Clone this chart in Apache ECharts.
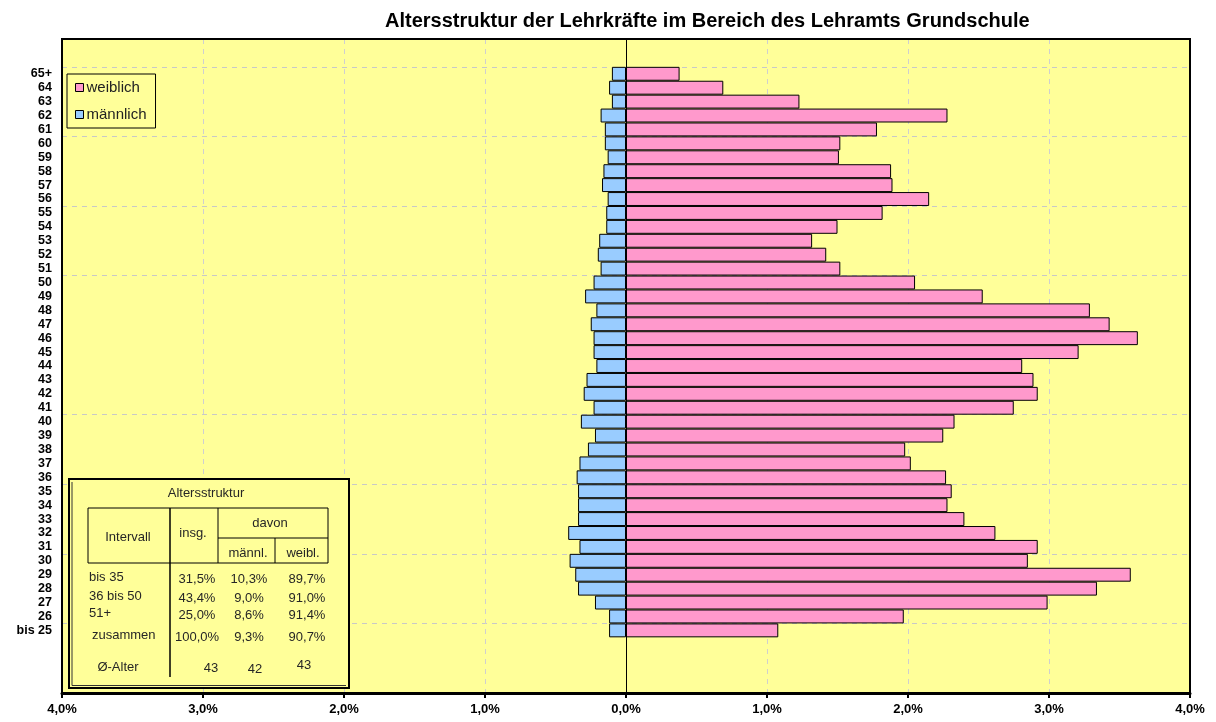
<!DOCTYPE html>
<html>
<head>
<meta charset="utf-8">
<script src="https://cdn.jsdelivr.net/npm/echarts@6/dist/echarts.min.js"></script>
<style>
  html, body { margin: 0; padding: 0; background: #fff; }
  #chart { width: 1216px; height: 722px; }
</style>
</head>
<body>
<div id="chart"></div>
<script>
// age groups from top to bottom
const ages = ['65+', '64', '63', '62', '61', '60', '59', '58', '57', '56',
    '55', '54', '53', '52', '51', '50', '49', '48', '47', '46',
    '45', '44', '43', '42', '41', '40', '39', '38', '37', '36',
    '35', '34', '33', '32', '31', '30', '29', '28', '27', '26', 'bis 25'];

// share of all teachers in %
const weiblich = [0.38, 0.69, 1.23, 2.28, 1.78, 1.52, 1.51, 1.88, 1.89, 2.15,
    1.82, 1.50, 1.32, 1.42, 1.52, 2.05, 2.53, 3.29, 3.43, 3.63,
    3.21, 2.81, 2.89, 2.92, 2.75, 2.33, 2.25, 1.98, 2.02, 2.27,
    2.31, 2.28, 2.40, 2.62, 2.92, 2.85, 3.58, 3.34, 2.99, 1.97, 1.08];
const maennlich = [0.10, 0.12, 0.10, 0.18, 0.15, 0.15, 0.13, 0.16, 0.17, 0.13,
    0.14, 0.14, 0.19, 0.20, 0.18, 0.23, 0.29, 0.21, 0.25, 0.23,
    0.23, 0.21, 0.28, 0.30, 0.23, 0.32, 0.22, 0.27, 0.33, 0.35,
    0.34, 0.34, 0.34, 0.41, 0.33, 0.40, 0.36, 0.34, 0.22, 0.12, 0.12];

const xTicks = [-4, -3, -2, -1, 0, 1, 2, 3, 4];

// summary table
const tabIntervalle = ['bis 35', '36 bis 50', '51+', 'zusammen'];
const tabInsg = ['31,5%', '43,4%', '25,0%', '100,0%'];
const tabMaennl = ['10,3%', '9,0%', '8,6%', '9,3%'];
const tabWeibl = ['89,7%', '91,0%', '91,4%', '90,7%'];
const tabAlter = ['43', '42', '43'];

// empty slots so the axis runs a bit above and below the age groups
const padTop = [' ', '  '];
const padBottom = ['   ', '    ', '     ', '      '];
const yCats = padTop.concat(ages, padBottom);
const off = padTop.length;

const fem = yCats.map((c, i) => (i >= off && i < off + ages.length) ? weiblich[i - off] : '-');
const mal = yCats.map((c, i) => (i >= off && i < off + ages.length) ? -maennlich[i - off] : '-');

// dashed lines at top of 65+, 60, 55, 50, 40, 35, 30, bis 25
const gridAt = ['65+', '60', '55', '50', '40', '35', '30', 'bis 25'].map(a => yCats.indexOf(a));

const FONT = 'Liberation Sans, Arial, sans-serif';
const TXT = { fontFamily: FONT, fontSize: 13, fill: '#262626' };

function t(text, x, y, align) {
    return { type: 'text', z: 101, style: Object.assign({ text: text, x: x, y: y, textAlign: align || 'center', textVerticalAlign: 'middle' }, TXT) };
}
function ln(x1, y1, x2, y2, w) {
    return { type: 'line', z: 101, shape: { x1: x1, y1: y1, x2: x2, y2: y2 }, style: { stroke: '#000', lineWidth: w || 1 } };
}

const rowY = [578, 597, 614, 636];
const gfx = [
    // plot frame on top of the dashed grid lines
    { type: 'rect', z: 50, shape: { x: 62, y: 39, width: 1128, height: 654 }, style: { fill: null, stroke: '#000', lineWidth: 2 } },
    { type: 'rect', z: 100, shape: { x: 69, y: 479, width: 280, height: 209 }, style: { fill: '#FFFF99', stroke: '#000', lineWidth: 2 } },
    { type: 'polyline', z: 101, shape: { points: [[72, 482], [72, 685.5], [346, 685.5]] }, style: { stroke: '#333', lineWidth: 1, fill: null } },
    t('Altersstruktur', 206, 493),
    { type: 'rect', z: 101, shape: { x: 88, y: 508, width: 240, height: 55 }, style: { fill: null, stroke: '#000', lineWidth: 1 } },
    ln(170, 508, 170, 677, 1.5),
    ln(218, 508, 218, 563),
    ln(218, 538, 328, 538),
    ln(275, 538, 275, 563),
    t('Intervall', 128, 537),
    t('insg.', 193, 533),
    t('davon', 270, 523),
    t('männl.', 248, 553),
    t('weibl.', 303, 553),
    t('Ø-Alter', 118, 667),
    t(tabAlter[0], 211, 668),
    t(tabAlter[1], 255, 669),
    t(tabAlter[2], 304, 665)
];
tabIntervalle.forEach((s, i) => {
    gfx.push(t(s, i === 3 ? 92 : 89, rowY[i] - 1, 'left'));
    gfx.push(t(tabInsg[i], 197, rowY[i] + 1));
    gfx.push(t(tabMaennl[i], 249, rowY[i] + 1));
    gfx.push(t(tabWeibl[i], 307, rowY[i] + 1));
});

const chart = echarts.init(document.getElementById('chart'));
chart.setOption({
    animation: false,
    title: {
        text: 'Altersstruktur der Lehrkräfte im Bereich des Lehramts Grundschule',
        left: 380,
        top: 6,
        textStyle: { fontFamily: FONT, fontSize: 20, fontWeight: 'bold', color: '#000' }
    },
    legend: {
        data: ['weiblich', 'männlich'],
        orient: 'vertical',
        left: 67,
        top: 74,
        backgroundColor: '#FFFF99',
        borderColor: '#000',
        borderWidth: 1,
        padding: [6, 9, 6, 8],
        itemGap: 12,
        itemWidth: 8,
        itemHeight: 8,
        itemStyle: { borderColor: '#000', borderWidth: 1 },
        icon: 'rect',
        textStyle: { fontFamily: FONT, fontSize: 15, color: '#222', padding: [0, 0, 0, -2] }
    },
    grid: {
        left: 62, right: 26, top: 39, bottom: 29,
        show: true,
        backgroundColor: '#FFFF99',
        borderColor: '#000',
        borderWidth: 2
    },
    xAxis: {
        type: 'value',
        min: xTicks[0],
        max: xTicks[xTicks.length - 1],
        interval: 1,
        axisLine: { show: true, lineStyle: { color: '#000', width: 3 } },
        axisTick: { show: true, length: 5, lineStyle: { color: '#000', width: 2 } },
        splitLine: { show: true, lineStyle: { type: [5, 5], color: '#cfcfcf' } },
        axisLabel: {
            fontFamily: FONT, fontSize: 13, fontWeight: 'bold', color: '#000', margin: 10,
            formatter: v => Math.abs(v).toFixed(1).replace('.', ',') + '%'
        }
    },
    yAxis: {
        type: 'category',
        inverse: true,
        data: yCats,
        axisLine: { show: false },
        axisTick: { show: false },
        axisLabel: {
            interval: 0, fontFamily: FONT, fontSize: 12.5, fontWeight: 'bold', color: '#000', margin: 10,
            formatter: v => v.trim()
        },
        splitLine: {
            show: true,
            interval: (idx) => gridAt.indexOf(idx) >= 0,
            lineStyle: { type: [5, 5], color: '#c8c8c8' }
        }
    },
    graphic: gfx,
    series: [
        {
            name: 'weiblich',
            type: 'bar',
            data: fem,
            barGap: '-100%',
            barCategoryGap: '0%',
            itemStyle: { color: '#FF99CC', borderColor: '#000', borderWidth: 1 },
            markLine: {
                silent: true,
                symbol: 'none',
                label: { show: false },
                lineStyle: { color: '#000', width: 1, type: 'solid' },
                data: [{ xAxis: 0 }]
            }
        },
        {
            name: 'männlich',
            type: 'bar',
            data: mal,
            barGap: '-100%',
            barCategoryGap: '0%',
            itemStyle: { color: '#99CCFF', borderColor: '#000', borderWidth: 1 }
        }
    ]
});
</script>
</body>
</html>
